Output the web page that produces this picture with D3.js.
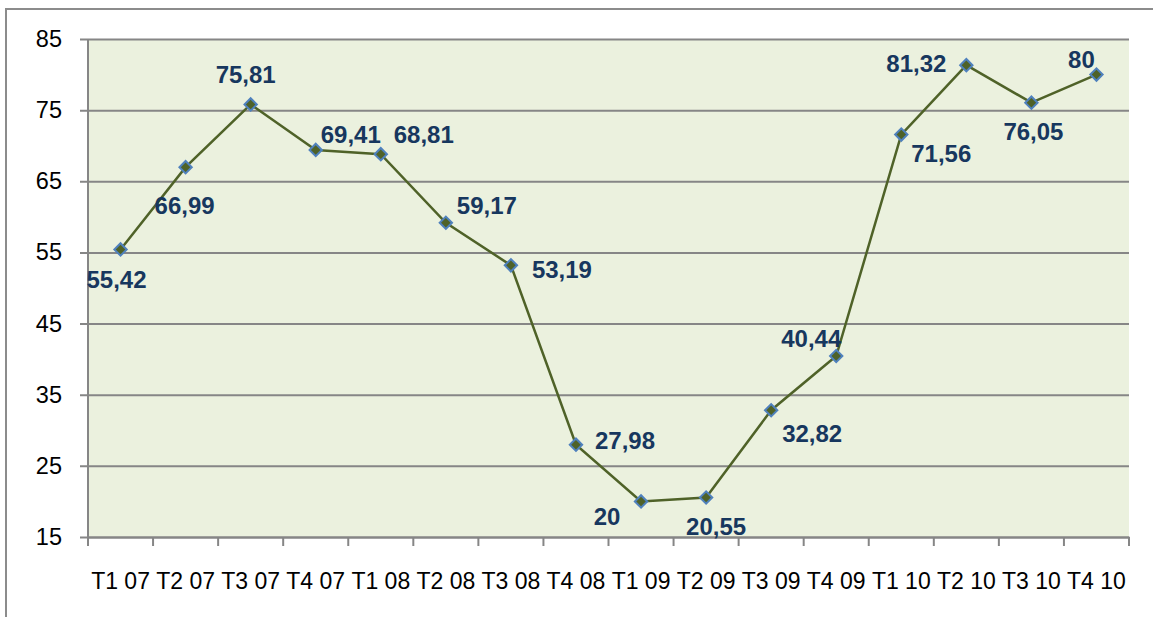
<!DOCTYPE html>
<html>
<head>
<meta charset="utf-8">
<script src="https://cdn.jsdelivr.net/npm/d3@7"></script>
<style>
  body { margin: 0; background: #fff; }
  svg { display: block; font-family: "Liberation Sans", Arial, sans-serif; }
</style>
</head>
<body>
<div id="chart"></div>
<script>
const categories = ["T1 07", "T2 07", "T3 07", "T4 07", "T1 08", "T2 08", "T3 08", "T4 08",
                    "T1 09", "T2 09", "T3 09", "T4 09", "T1 10", "T2 10", "T3 10", "T4 10"];
const values = [55.42, 66.99, 75.81, 69.41, 68.81, 59.17, 53.19, 27.98,
                20, 20.55, 32.82, 40.44, 71.56, 81.32, 76.05, 80];
const yTicks = [15, 25, 35, 45, 55, 65, 75, 85];
// where each data label sits relative to its point (dx, dy in px)
const labelOffsets = [[-4, 30], [-1, 38], [-5, -30], [35, -16], [43, -20], [41, -17], [51, 4], [49, -4],
                      [-34, 15], [10, 29], [41, 23], [-25, -18], [40, 19], [-50, -2], [2, 29], [-15, -15]];

const width = 1153, height = 617;
const plot = { left: 88, right: 1129, top: 39, bottom: 537 };

const svg = d3.select("#chart").append("svg").attr("width", width).attr("height", height);

// outer frame
svg.append("path")
    .attr("d", `M6,${height} V9 H${width}`)
    .attr("fill", "none").attr("stroke", "#8c8c8c").attr("stroke-width", 2);

const x = d3.scaleBand().domain(categories).range([plot.left, plot.right]);
const y = d3.scaleLinear().domain([15, 85]).range([plot.bottom, plot.top]);

svg.append("rect")
    .attr("x", plot.left).attr("y", plot.top)
    .attr("width", plot.right - plot.left).attr("height", plot.bottom - plot.top)
    .attr("fill", "#ebf1de");

// y axis with gridlines
const yAxis = svg.append("g").attr("transform", `translate(${plot.left},0)`)
    .call(d3.axisLeft(y).tickValues(yTicks).tickSize(-(plot.right - plot.left)).tickPadding(0));
yAxis.select(".domain").remove();
yAxis.selectAll(".tick line")
    .attr("x1", -8).attr("stroke", "#868686").attr("stroke-width", 2);
yAxis.selectAll(".tick text")
    .attr("x", -26).attr("font-size", 23.5).attr("fill", "#000")
    .attr("font-family", "Liberation Sans, Arial, sans-serif");

svg.append("line")
    .attr("x1", plot.left).attr("x2", plot.left)
    .attr("y1", plot.top).attr("y2", plot.bottom)
    .attr("stroke", "#868686").attr("stroke-width", 2);

// x axis with ticks on category boundaries
const xAxis = svg.append("g").attr("transform", `translate(0,${plot.bottom})`)
    .call(d3.axisBottom(x).tickSize(0).tickPadding(36));
xAxis.select(".domain").attr("stroke", "#868686").attr("stroke-width", 2);
xAxis.selectAll(".tick text")
    .attr("font-size", 23).attr("fill", "#000")
    .attr("font-family", "Liberation Sans, Arial, sans-serif");
const bounds = categories.map(c => x(c)).concat([plot.right]);
xAxis.selectAll(".bound")
    .data(bounds)
    .join("line")
    .attr("class", "bound")
    .attr("x1", d => d).attr("x2", d => d)
    .attr("y1", 0).attr("y2", 9)
    .attr("stroke", "#868686").attr("stroke-width", 2);

const px = (d, i) => x(categories[i]) + x.bandwidth() / 2;

const line = d3.line().x((d, i) => px(d, i)).y(d => y(d));
svg.append("path")
    .datum(values)
    .attr("d", line)
    .attr("fill", "none")
    .attr("stroke", "#4f6228")
    .attr("stroke-width", 2.5);

svg.selectAll(".marker")
    .data(values)
    .join("path")
    .attr("class", "marker")
    .attr("d", d3.symbol(d3.symbolSquare, 76))
    .attr("transform", (d, i) => `translate(${px(d, i)},${y(d)}) rotate(45)`)
    .attr("fill", "#4f6228")
    .attr("stroke", "#4f81bd")
    .attr("stroke-width", 2);

svg.selectAll(".label")
    .data(values)
    .join("text")
    .attr("class", "label")
    .attr("x", (d, i) => px(d, i) + labelOffsets[i][0])
    .attr("y", (d, i) => y(d) + labelOffsets[i][1])
    .attr("text-anchor", "middle")
    .attr("dy", "0.36em")
    .attr("font-size", 24)
    .attr("font-weight", "bold")
    .attr("fill", "#17375e")
    .text(d => String(d).replace(".", ","));
</script>
</body>
</html>
